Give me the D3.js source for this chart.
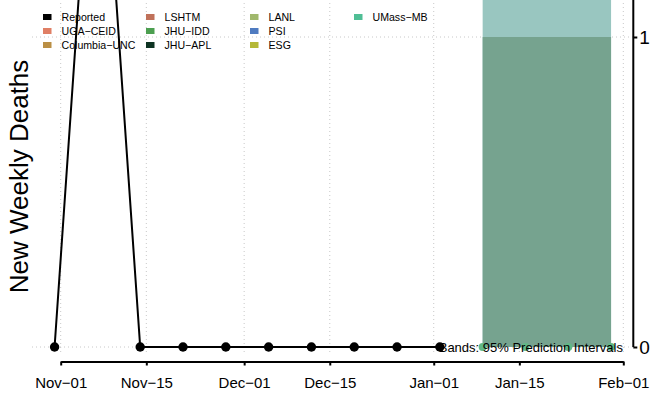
<!DOCTYPE html>
<html><head><meta charset="utf-8">
<script src="https://cdn.jsdelivr.net/npm/d3@7"></script>
<style>body{margin:0;background:#fff}svg{display:block;font-family:"Liberation Sans",Arial,sans-serif}</style>
</head><body><svg id="c" width="655" height="403"></svg>
<script>
const reportedDates = ["2020-10-31","2020-11-07","2020-11-14","2020-11-21","2020-11-28","2020-12-05","2020-12-12","2020-12-19","2020-12-26","2021-01-02"];
const reportedValues = [0,2,0,0,0,0,0,0,0,0];
const forecastDates = ["2021-01-09","2021-01-16","2021-01-23","2021-01-30"];
const forecastValues = [0,0,0,0];
const bandOuterLower = [0,0,0,0];
const bandOuterUpper = [3,3,3,3];
const bandInnerLower = [0,0,0,0];
const bandInnerUpper = [1,1,1,1];
const xTickDates = ["2020-11-01","2020-11-15","2020-12-01","2020-12-15","2021-01-01","2021-01-15","2021-02-01"];
const xTickLabels = ["Nov\u221201","Nov\u221215","Dec\u221201","Dec\u221215","Jan\u221201","Jan\u221215","Feb\u221201"];
const yTicks = [0,1];
const legendNames = ["Reported","UGA\u2212CEID","Columbia\u2212UNC","LSHTM","JHU\u2212IDD","JHU\u2212APL","LANL","PSI","ESG","UMass\u2212MB"];
const legendColors = ["#000000","#E07F65","#BA8F45","#C0715A","#4C9F50","#0D3322","#A0B86C","#4F7BC0","#B5B837","#4FBE95"];

const P = d3.timeParse("%Y-%m-%d");
const svg = d3.select("#c");
const x = d3.scaleTime().domain([P("2020-11-01"), P("2021-02-01")]).range([60.7, 623.3]);
const y = d3.scaleLinear().domain([0,1]).range([347, 37]);

// grid
const g = svg.append("g");
xTickDates.forEach(d => g.append("line").attr("x1", x(P(d))).attr("x2", x(P(d))).attr("y1", -5).attr("y2", 352)
  .attr("stroke","#c8c8c8").attr("stroke-width",1).attr("stroke-dasharray","1,3"));
yTicks.forEach(v => g.append("line").attr("x1", 32).attr("x2", 633).attr("y1", y(v)).attr("y2", y(v))
  .attr("stroke","#c8c8c8").attr("stroke-width",1).attr("stroke-dasharray","1,3"));

// bands
const fd = forecastDates.map(P);
const areaOuter = d3.area().x((d,i)=>x(fd[i])).y0((d,i)=>y(bandOuterLower[i])).y1((d,i)=>y(bandOuterUpper[i]));
const areaInner = d3.area().x((d,i)=>x(fd[i])).y0((d,i)=>y(bandInnerLower[i])).y1((d,i)=>y(bandInnerUpper[i]));
svg.append("path").datum(fd).attr("d", areaOuter).attr("fill","#99C6C0");
svg.append("path").datum(fd).attr("d", areaInner).attr("fill","#76A38F");

// forecast points
svg.selectAll(".fp").data(forecastValues).enter().append("circle")
  .attr("cx",(d,i)=>x(fd[i])).attr("cy",d=>y(d)).attr("r",4).attr("fill","#62B886");

// bands text
svg.append("text").attr("x",623).attr("y",351.5).attr("text-anchor","end").attr("font-size",13)
  .attr("fill","#000").text("Bands: 95% Prediction Intervals");

// reported
const rd = reportedDates.map(P);
const line = d3.line().x((d,i)=>x(rd[i])).y(d=>y(d));
svg.append("path").datum(reportedValues).attr("d", line).attr("fill","none").attr("stroke","#000").attr("stroke-width",2);
svg.selectAll(".rp").data(reportedValues).enter().append("circle")
  .attr("cx",(d,i)=>x(rd[i])).attr("cy",d=>y(d)).attr("r",4.7).attr("fill","#000");

// x axis
const xa = svg.append("g").attr("transform","translate(0,361.5)")
  .call(d3.axisBottom(x).tickValues(xTickDates.map(P)).tickSize(4).tickSizeOuter(0).tickFormat((d,i)=>xTickLabels[i]));
xa.select(".domain").attr("stroke","#000").attr("stroke-width",2);
xa.selectAll(".tick line").attr("stroke","#000").attr("stroke-width",2);
xa.selectAll("text").attr("font-size",15).attr("fill","#000").attr("dy",0).attr("y",26.5).style("font-family","'Liberation Sans',Arial,sans-serif");

// y axis right (line continues above the visible area)
const ya = svg.append("g").attr("transform","translate(633.3,0)")
  .call(d3.axisRight(y).tickValues(yTicks).tickSize(4).tickSizeOuter(0).tickFormat(d3.format("d")));
ya.select(".domain").remove();
ya.append("line").attr("x1",0).attr("x2",0).attr("y1",y(0)).attr("y2",y(2)).attr("stroke","#000").attr("stroke-width",2);
ya.selectAll(".tick line").attr("stroke","#000").attr("stroke-width",2);
ya.selectAll("text").attr("font-size",19).attr("fill","#000").attr("x",6).attr("dy","0.36em").style("font-family","'Liberation Sans',Arial,sans-serif");

// y label
svg.append("text").attr("transform","translate(28,176.5) rotate(-90)").attr("text-anchor","middle")
  .attr("font-size",26).attr("fill","#000").text("New Weekly Deaths");

// legend
const colX = [43, 146, 250, 354];
const rowY = [17, 31, 45];
legendNames.forEach((n,i)=>{
  const c = Math.floor(i/3), r = i%3;
  svg.append("rect").attr("x",colX[c]).attr("y",rowY[r]-3).attr("width",8.5).attr("height",6).attr("fill",legendColors[i]);
  svg.append("text").attr("x",colX[c]+18.5).attr("y",rowY[r]+3.8).attr("font-size",10.6).attr("fill","#000").text(n);
});
</script></body></html>
